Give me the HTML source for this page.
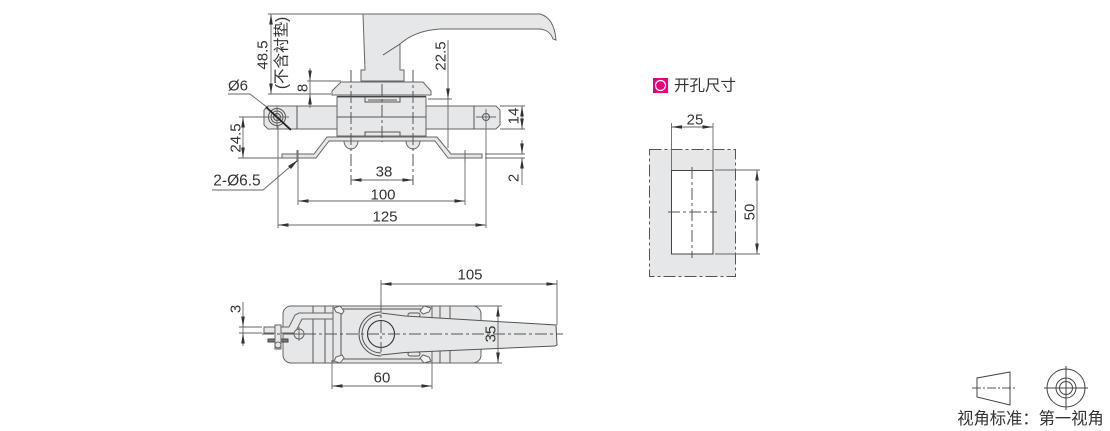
<!DOCTYPE html>
<html><head><meta charset="utf-8"><style>
html,body{margin:0;padding:0;background:#fff}
svg{display:block}
text{font-family:"Liberation Sans","Noto Sans CJK SC",sans-serif;font-size:15px;fill:#333;text-anchor:middle;dominant-baseline:central}
.o{fill:#e6e7e8;stroke:#666;stroke-width:1}
.p{fill:none;stroke:#555;stroke-width:1}
.d{fill:none;stroke:#666;stroke-width:.9}
.c{fill:none;stroke:#555;stroke-width:1;stroke-dasharray:12 3 3 3}
.a{fill:#333;stroke:none}
</style></head><body>
<svg width="1110" height="431" viewBox="0 0 1110 431" xmlns="http://www.w3.org/2000/svg">
<defs>
<path id="au" class="a" d="M0 0L-1.8 10.5L1.8 10.5Z"/>
<path id="ad" class="a" d="M0 0L-1.8 -10.5L1.8 -10.5Z"/>
<path id="al" class="a" d="M0 0L10.5 -1.8L10.5 1.8Z"/>
<path id="ar" class="a" d="M0 0L-10.5 -1.8L-10.5 1.8Z"/>
</defs>

<!-- Front view -->
<path class="o" d="M264 110L268 106H496L500 110V125L496 129H268L264 125Z"/>
<path class="p" d="M297 106V129M474 106V129"/>
<circle cx="486" cy="117" r="3.5" class="p"/>
<path class="d" d="M476 117H496M486 109V125"/>
<circle cx="277" cy="117" r="8.5" class="p"/><circle cx="277" cy="117" r="6" class="p"/><circle cx="277" cy="117" r="3.5" class="p"/>
<path class="d" d="M265 117H289M277 106V129"/>
<path class="o" d="M363 14H540C551 17 555 28 556 40L553 39C551 33 546 29 538 29H440C424 30 410 35 400 44V70H404V81H361V70H365Z"/>
<path class="p" d="M383 55L400 44"/>
<path class="o" d="M341 82H423L431 91V95H332V91Z"/>
<rect x="337" y="97" width="89" height="39" class="o"/>
<path class="p" d="M337 117H426M365 97V102H400V97M368 100H397M365 136V132H400V136"/>
<path stroke="#444" stroke-width="1.3" fill="none" d="M337 96.5H426"/>
<path class="o" d="M282 154H314L327 137H437L451 154H482V158H448L435 141H329L316 158H282Z"/>
<path class="o" d="M344 141A7 8 0 0 0 358 141ZM406 141A7 8 0 0 0 420 141Z"/>
<path class="c" d="M351 70V185M413 70V185M382 84V142"/>
<path class="d" d="M297 150V162M465 150V162"/>

<!-- Front dimensions -->
<path class="d" d="M268 14H363M271 14V94M268 94H331"/>
<use href="#au" x="271" y="14"/><use href="#ad" x="271" y="94"/>
<text transform="translate(263,55) rotate(-90)">48.5</text>
<text transform="translate(282,53) rotate(-90)" style="font-size:15.5px">(不含衬垫)</text>
<path class="d" d="M307 81H341M310 68V108"/>
<use href="#ad" x="310" y="81"/><use href="#au" x="310" y="94"/>
<text transform="translate(303,88) rotate(-90)">8</text>
<path class="d" d="M448 40V148M428 99H452"/>
<use href="#ad" x="448" y="99"/>
<text transform="translate(441,56) rotate(-90)">22.5</text>
<path class="d" d="M500 106H525M500 129H525M522 106V129"/>
<use href="#au" x="522" y="106"/><use href="#ad" x="522" y="129"/>
<text transform="translate(514,116) rotate(-90)">14</text>
<path class="d" d="M239 117H265M238 158H282M243 117V158"/>
<use href="#au" x="243" y="117"/><use href="#ad" x="243" y="158"/>
<text transform="translate(236,138) rotate(-90)">24.5</text>
<path class="d" d="M485 154H525M485 158H525M522 140V154M522 158V185"/>
<use href="#ad" x="522" y="154"/><use href="#au" x="522" y="158"/>
<text transform="translate(514,178) rotate(-90)">2</text>
<path class="d" d="M278 125V228M486 125V228M278 225H486"/>
<use href="#al" x="278" y="225"/><use href="#ar" x="486" y="225"/>
<text x="385" y="217">125</text>
<path class="d" d="M298 150V205M465 150V205M298 201H465"/>
<use href="#al" x="298" y="201"/><use href="#ar" x="465" y="201"/>
<text x="383" y="195">100</text>
<path class="d" d="M351 180H413"/>
<use href="#al" x="351" y="180"/><use href="#ar" x="413" y="180"/>
<text x="384" y="172">38</text>
<text x="237" y="181" style="font-size:15.5px">2-Ø6.5</text>
<path class="d" d="M212 190H263L298 160"/>
<path class="a" d="M298 160L288 166L291 169Z"/>
<text x="238" y="86">Ø6</text>
<path class="d" d="M228 94H250L268 108"/>
<path stroke="#222" stroke-width="1.8" d="M266 107L291 130"/>

<!-- Bottom view -->
<rect x="283" y="306" width="198" height="57" rx="8" class="o"/>
<path class="p" d="M313 306V363M325 306V363M440 306V363M450 306V363"/>
<path class="o" d="M333 306H432V363H333Z"/>
<path class="p" d="M341 309H422M341 359H422M341 309V359"/>
<path fill="#f2f2f2" stroke="#666" d="M334 308L340 306L344 311L342 314L336 312ZM334 361L340 363L344 358L342 355L336 357ZM431 308L424 306L420 311L423 314L429 312ZM431 361L424 363L420 358L423 355L429 357Z"/>
<rect x="408" y="313" width="12" height="4" rx="2" class="p"/>
<rect x="408" y="352" width="12" height="4" rx="2" class="p"/>
<path class="o" d="M381 313L405 315.500L556 325L557 345L555 346L405 352.500L381 355Z" stroke="none" style="stroke:none"/>
<path class="p" d="M381 313L405 316L556 325L557 345L555 346L405 352.500L381 355"/>
<path class="p" d="M381 312A22 22 0 0 0 381 356"/>
<path class="p" d="M381 315A19 19 0 0 0 381 353"/>
<circle cx="381" cy="334" r="13.500" fill="none" stroke="#333" stroke-width="1.100"/>
<path class="o" d="M264 327H289L295 315L299 313H333V319H302L295 333H264Z"/>
<circle cx="299" cy="334" r="5" class="o"/>
<path class="d" d="M292 334H306M299 327V341"/>
<rect x="268" y="339" width="20" height="3" fill="#777" stroke="#444"/>
<rect x="275" y="325" width="6" height="24" class="o"/>
<circle cx="278" cy="345" r="3" class="o"/>
<path class="c" d="M262 334H563"/>
<path class="c" d="M381 300V352"/>

<!-- Bottom dimensions -->
<path class="d" d="M239 327H262M239 333H262M243 302V346"/>
<use href="#ad" x="243" y="327"/><use href="#au" x="243" y="333"/>
<text transform="translate(236,309) rotate(-90)">3</text>
<path class="d" d="M381 280V312M557 280V325M381 284H557"/>
<use href="#al" x="381" y="284"/><use href="#ar" x="557" y="284"/>
<text x="470" y="275">105</text>
<path class="d" d="M440 306H502M440 363H502M498 306V363"/>
<use href="#au" x="498" y="306"/><use href="#ad" x="498" y="363"/>
<text transform="translate(491,334) rotate(-90)">35</text>
<path class="d" d="M332 360V389M432 360V389M332 386H432"/>
<use href="#al" x="332" y="386"/><use href="#ar" x="432" y="386"/>
<text x="382" y="378">60</text>

<!-- Cutout -->
<rect x="653" y="78" width="15" height="15" fill="#e4007f"/>
<circle cx="660.500" cy="85.500" r="5" fill="none" stroke="#fff" stroke-width="1.200"/>
<text x="705" y="86" style="font-size:15.500px">开孔尺寸</text>
<rect x="649.500" y="149.500" width="86" height="127" fill="#e6e7e8" stroke="#555" stroke-dasharray="12 3 3 3"/>
<rect x="671.500" y="170.500" width="41.500" height="83.500" fill="#fff" stroke="#444"/>
<path class="c" d="M692 167V258M668 212H717"/>
<path class="d" d="M671.500 123V170M713 123V170M671.500 127H713"/>
<use href="#al" x="671.500" y="127"/><use href="#ar" x="713" y="127"/>
<text x="695" y="120">25</text>
<path class="d" d="M715 170H760M715 254H760M757 170V254"/>
<use href="#au" x="757" y="170"/><use href="#ad" x="757" y="254"/>
<text transform="translate(750,212) rotate(-90)">50</text>

<!-- View symbol -->
<path fill="none" stroke="#444" d="M977 378L1010 372V405L977 397Z"/>
<path class="c" style="stroke-dasharray:9 2 2 2" d="M972 388H1015"/>
<circle cx="1066" cy="388" r="19" fill="none" stroke="#444"/>
<circle cx="1066" cy="388" r="10" fill="none" stroke="#444"/>
<circle cx="1066" cy="388" r="6.500" fill="none" stroke="#444"/>
<path fill="none" stroke="#444" d="M1044 388H1088M1066 366V410"/>
<text x="1030.500" y="419" style="font-size:16.300px">视角标准：第一视角</text>
</svg>
</body></html>
